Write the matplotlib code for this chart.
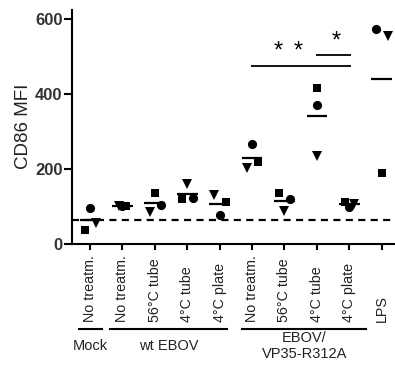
import matplotlib
matplotlib.use("Agg")
import matplotlib.pyplot as plt
import matplotlib.transforms as mtransforms
from matplotlib.lines import Line2D
import numpy as np

plt.rcParams['font.family'] = ['Liberation Sans', 'DejaVu Sans']

# data
conditions = ['No treatm.', 'No treatm.', '56\u00b0C tube', '4\u00b0C tube', '4\u00b0C plate',
              'No treatm.', '56\u00b0C tube', '4\u00b0C tube', '4\u00b0C plate', 'LPS']
circle_vals = [96, 100, 104, 122, 76, 265, 118, 370, 97, 573]
square_vals = [36, 99, 134, 119, 112, 219, 136, 415, 110, 188]
tri_vals = [56, 100, 85, 158, 130, 201, 87, 234, 106, 555]
baseline = 63
groups = ['Mock', 'wt EBOV', 'EBOV/\nVP35-R312A']
group_spans = [(-0.34, 0.38), (0.62, 4.22), (4.7, 8.52)]
brackets = [(4.97, 8.05, 475), (6.98, 8.05, 505)]
stars = [(5.81, 514), (6.41, 514), (7.59, 541)]

# horizontal scatter of the three replicates
circle_dx = [0, 0, 0.2, 0.18, 0, 0, 0.18, 0, 0, -0.18]
square_dx = [-0.17, 0.1, 0, -0.17, 0.2, 0.18, -0.16, 0, -0.14, 0]
tri_dx = [0.18, -0.1, -0.16, 0, -0.17, -0.15, 0, 0, 0.14, 0.18]

fig = plt.figure(figsize=(3.95, 3.67), dpi=100)
ax = fig.add_axes([0.1823, 0.3365, 0.8177, 0.6363])

x = np.arange(len(conditions))
ax.plot(x + np.array(circle_dx), circle_vals, 'o', color='black', ms=6.6, mew=0, clip_on=False, zorder=3)
ax.plot(x + np.array(square_dx), square_vals, 's', color='black', ms=6.2, mew=0, clip_on=False, zorder=3)
ax.plot(x + np.array(tri_dx), tri_vals, 'v', color='black', ms=7.2, mew=0, clip_on=False, zorder=3)

means = (np.array(circle_vals) + np.array(square_vals) + np.array(tri_vals)) / 3
for xi, m in zip(x, means):
    ax.plot([xi - 0.32, xi + 0.32], [m, m], color='black', lw=1.6, solid_capstyle='butt', zorder=2)

ax.axhline(baseline, color='black', lw=1.6, ls=(0, (3.2, 2.4)), zorder=1)

for x0, x1, yb in brackets:
    ax.plot([x0, x1], [yb, yb], color='black', lw=1.3, solid_capstyle='butt')
for sx, sy in stars:
    ax.text(sx, sy, '*', ha='center', va='center', fontsize=17, color='black')

ax.set_xlim(-0.556, 9.41)
ax.set_ylim(0, 624)
ax.set_yticks([0, 200, 400, 600])
ax.set_yticklabels(['0', '200', '400', '600'], fontsize=12, fontweight='bold', color='#333333')
ax.set_xticks(x)
ax.set_xticklabels([])
ax.tick_params(axis='y', length=5.8, width=1.5, pad=1)
ax.tick_params(axis='x', length=4.3, width=1.5)
ax.set_ylabel('CD86 MFI', fontsize=13.5, color='#222222', labelpad=2)

for side in ['top', 'right']:
    ax.spines[side].set_visible(False)
for side in ['left', 'bottom']:
    ax.spines[side].set_linewidth(1.5)

trans = mtransforms.blended_transform_factory(ax.transData, fig.transFigure)
for xi, lab in zip(x, conditions):
    ax.text(xi, 0.1226, lab, rotation=90, ha='center', va='bottom', fontsize=10.3,
            color='#222222', transform=trans, clip_on=False)

for (g0, g1), name in zip(group_spans, groups):
    fig.add_artist(Line2D([g0, g1], [0.1027, 0.1027], color='black', lw=1.5, transform=trans))
    ax.text((g0 + g1) / 2, 0.057, name, ha='center', va='center', fontsize=10.5,
            color='#222222', transform=trans, linespacing=1.15)

fig.savefig('out.png', dpi=100, facecolor='white')
